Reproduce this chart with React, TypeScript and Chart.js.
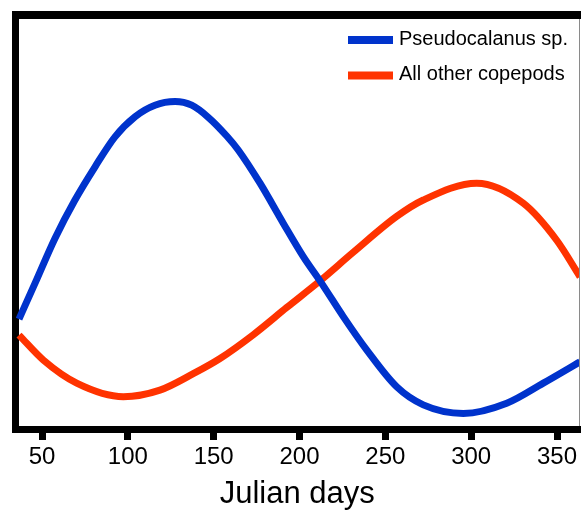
import { useEffect, useRef } from "react";
import { Chart, registerables } from "chart.js";

Chart.register(...registerables);

const FONT = "'Liberation Sans', Arial, Helvetica, sans-serif";

const seriesLabels = ["Pseudocalanus sp.", "All other copepods"];
const seriesColors = ["#0033cc", "#ff3300"];

const pseudoDays = [36.6, 45.9, 57.6, 69.2, 80.9, 92.5, 104.2, 115.8, 127.5, 137.2, 147.0, 157.6, 164.3, 177.0, 190.6, 202.2, 212.9, 225.5, 239.1, 256.6, 272.1, 295.4, 320.7, 342.0, 363.4];
const pseudoValues = [26.9, 35.6, 46.6, 55.9, 64.0, 71.3, 76.2, 79.0, 79.9, 79.0, 76.0, 71.5, 68.1, 60.0, 50.2, 42.1, 35.6, 27.5, 19.4, 10.4, 6.0, 3.9, 6.4, 11.3, 16.5];

const otherDays = [36.6, 50.8, 70.2, 97.4, 118.7, 138.1, 153.7, 173.1, 192.5, 211.9, 231.4, 256.6, 272.1, 303.2, 330.4, 349.8, 363.4];
const otherValues = [23.0, 16.9, 11.3, 8.0, 9.6, 13.6, 17.3, 23.1, 29.7, 36.2, 43.2, 51.9, 55.9, 60.0, 55.1, 46.1, 37.2];

const xMin = 34.56;
const xMax = 362.8;
const xStep = 50;
const xTitle = "Julian days";

const toPoints = (xs: number[], ys: number[]) => xs.map((x, i) => ({ x, y: ys[i] }));

const framePlugin = {
  id: "frameExtras",
  beforeDatasetsDraw(chart: any) {
    const { ctx, chartArea: a, width } = chart;
    ctx.save();
    ctx.fillStyle = "#000";
    ctx.fillRect(a.left - 3.5, a.top - 8, width - (a.left - 3.5), 8);
    ctx.fillRect(a.left - 3.5, a.bottom, 3.5, 3.5);
    ctx.fillRect(a.right, a.bottom - 3.5, width - a.right, 7);
    ctx.strokeStyle = "#8a8a8a";
    ctx.lineWidth = 1;
    ctx.beginPath();
    ctx.moveTo(a.right + 0.5, a.top);
    ctx.lineTo(a.right + 0.5, a.bottom - 3.5);
    ctx.stroke();
    ctx.restore();
  },
};

const legendPlugin = {
  id: "cornerLegend",
  afterDraw(chart: any) {
    const { ctx, chartArea: a } = chart;
    chart.data.datasets.forEach((ds: any, i: number) => {
      const y = a.top + 21 + i * 35.5;
      ctx.save();
      ctx.strokeStyle = ds.borderColor;
      ctx.lineWidth = 8;
      ctx.lineCap = "butt";
      ctx.beginPath();
      ctx.moveTo(a.right - 231, y);
      ctx.lineTo(a.right - 186, y);
      ctx.stroke();
      ctx.fillStyle = "#000";
      ctx.font = `20px ${FONT}`;
      ctx.textBaseline = "middle";
      ctx.textAlign = "left";
      ctx.fillText(ds.label, a.right - 180, y - 1);
      ctx.restore();
    });
  },
};

export default function App() {
  const ref = useRef<HTMLCanvasElement>(null);

  useEffect(() => {
    const chart = new Chart(ref.current!, {
      type: "line",
      data: {
        datasets: [
          {
            label: seriesLabels[0],
            data: toPoints(pseudoDays, pseudoValues),
            borderColor: seriesColors[0],
            backgroundColor: seriesColors[0],
            borderWidth: 7,
            pointRadius: 0,
            cubicInterpolationMode: "monotone",
            fill: false,
          },
          {
            label: seriesLabels[1],
            data: toPoints(otherDays, otherValues),
            borderColor: seriesColors[1],
            backgroundColor: seriesColors[1],
            borderWidth: 7,
            pointRadius: 0,
            cubicInterpolationMode: "monotone",
            fill: false,
          },
        ],
      },
      options: {
        responsive: false,
        maintainAspectRatio: false,
        devicePixelRatio: 1,
        animation: false,
        events: [],
        layout: { padding: { left: 15.5, top: 19, right: 2, bottom: 0 } },
        plugins: {
          legend: { display: false },
          tooltip: { enabled: false },
        },
        scales: {
          x: {
            type: "linear",
            min: xMin,
            max: xMax,
            border: { display: true, width: 7, color: "#000" },
            grid: {
              display: true,
              drawOnChartArea: false,
              drawTicks: true,
              tickLength: 10.5,
              tickWidth: 7,
              tickColor: "#000",
            },
            ticks: {
              stepSize: xStep,
              includeBounds: false,
              autoSkip: false,
              maxRotation: 0,
              padding: 3,
              color: "#000",
              font: { family: FONT, size: 24 },
            },
            title: {
              display: true,
              text: xTitle,
              color: "#000",
              font: { family: FONT, size: 31, lineHeight: 1 },
              padding: 0,
            },
            afterFit(scale: any) {
              scale.height = 80.5;
            },
          },
          y: {
            type: "linear",
            min: 0,
            max: 100,
            border: { display: true, width: 7, color: "#000" },
            grid: { display: true, drawOnChartArea: false, drawTicks: false },
            ticks: { display: false },
            afterFit(scale: any) {
              scale.width = 0;
            },
          },
        },
      },
      plugins: [framePlugin, legendPlugin],
    });
    return () => chart.destroy();
  }, []);

  return (
    <div style={{ position: "fixed", left: 0, top: 0, width: 581, height: 510, background: "#fff" }}>
      <canvas ref={ref} width={581} height={510} style={{ display: "block", width: 581, height: 510 }} />
    </div>
  );
}
